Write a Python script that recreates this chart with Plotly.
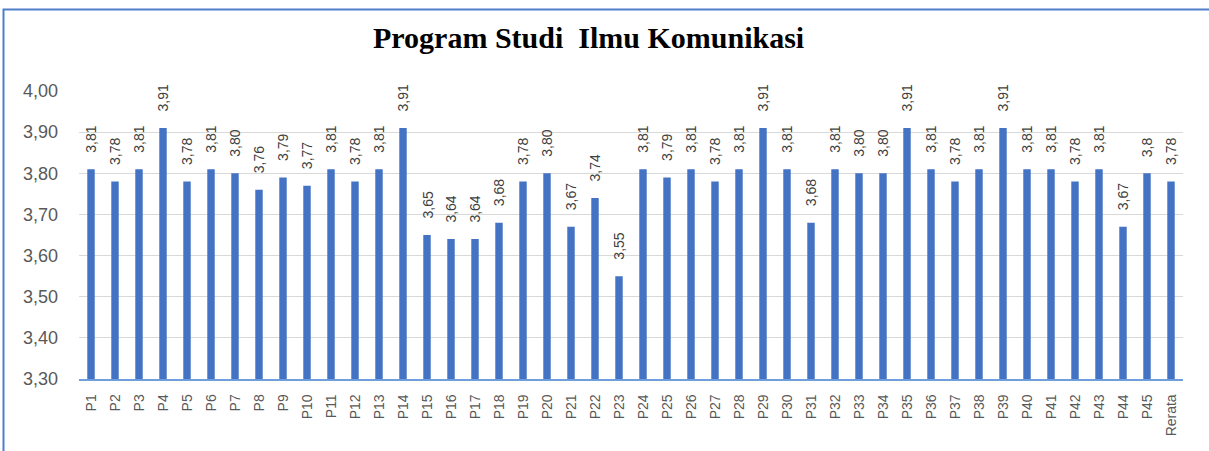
import plotly.graph_objects as go

categories = [f"P{i}" for i in range(1, 46)] + ["Rerata"]
values = [3.81, 3.78, 3.81, 3.91, 3.78, 3.81, 3.80, 3.76, 3.79, 3.77,
          3.81, 3.78, 3.81, 3.91, 3.65, 3.64, 3.64, 3.68, 3.78, 3.80,
          3.67, 3.74, 3.55, 3.81, 3.79, 3.81, 3.78, 3.81, 3.91, 3.81,
          3.68, 3.81, 3.80, 3.80, 3.91, 3.81, 3.78, 3.81, 3.91, 3.81,
          3.81, 3.78, 3.81, 3.67, 3.8, 3.78]
labels = ["3,81", "3,78", "3,81", "3,91", "3,78", "3,81", "3,80", "3,76", "3,79", "3,77",
          "3,81", "3,78", "3,81", "3,91", "3,65", "3,64", "3,64", "3,68", "3,78", "3,80",
          "3,67", "3,74", "3,55", "3,81", "3,79", "3,81", "3,78", "3,81", "3,91", "3,81",
          "3,68", "3,81", "3,80", "3,80", "3,91", "3,81", "3,78", "3,81", "3,91", "3,81",
          "3,81", "3,78", "3,81", "3,67", "3,8", "3,78"]
y_ticks = [3.3, 3.4, 3.5, 3.6, 3.7, 3.8, 3.9, 4.0]
title_text = "Program Studi  Ilmu Komunikasi"

W, H = 1209, 451
L, T = 79, 91
R = W - 1183
B = H - 379
pw, ph = W - L - R, H - T - B

def px_x(x):
    return (x - L) / pw

def px_y(y):
    return (H - B - y) / ph

fig = go.Figure()
fig.add_trace(go.Bar(
    x=categories, y=values, marker_color="#4472C4", marker_line_width=0,
    hoverinfo="x+y",
))

for c, v, t in zip(categories, values, labels):
    fig.add_annotation(
        x=c, y=v, text=t, textangle=-90, showarrow=False,
        xanchor="center", yanchor="bottom", yshift=14,
        font=dict(family="Liberation Sans, Arial", size=14, color="#404040"),
    )

# title
fig.add_annotation(
    x=px_x(588), y=px_y(37), xref="paper", yref="paper",
    text="<b>" + title_text + "</b>", showarrow=False,
    xanchor="center", yanchor="middle",
    font=dict(family="Liberation Serif, Times New Roman", size=30, color="#000000"),
)

# outer border
fig.add_shape(
    type="rect", xref="paper", yref="paper",
    x0=px_x(3.5), x1=px_x(1240),
    y0=px_y(480), y1=px_y(9.5),
    line=dict(color="#4F7FCB", width=2), fillcolor="rgba(0,0,0,0)", layer="above",
)

fig.update_layout(
    width=W, height=H,
    margin=dict(l=L, r=R, t=T, b=B, pad=0),
    paper_bgcolor="white", plot_bgcolor="white",
    bargap=0.69, showlegend=False,
    separators=",.",
    font=dict(family="Liberation Sans, Arial", color="#595959"),
)
fig.update_xaxes(
    type="category", tickangle=-90, showgrid=False,
    tickfont=dict(size=14, color="#595959"),
    showline=True, linecolor="#6E9FDB", linewidth=1.5,
    ticks="", ticklabelstandoff=8,
)
fig.update_yaxes(
    range=[3.3, 4.0], tickvals=y_ticks, tickformat=".2f",
    showgrid=True, gridcolor="#D9D9D9", gridwidth=1,
    zeroline=False, showline=False, ticks="",
    tickfont=dict(size=18, color="#595959"), ticklabelstandoff=20,
)

fig.write_html(
    "out.html",
    config={"displayModeBar": False},
    post_script="document.body.style.margin='0';document.body.style.overflow='hidden';",
)
